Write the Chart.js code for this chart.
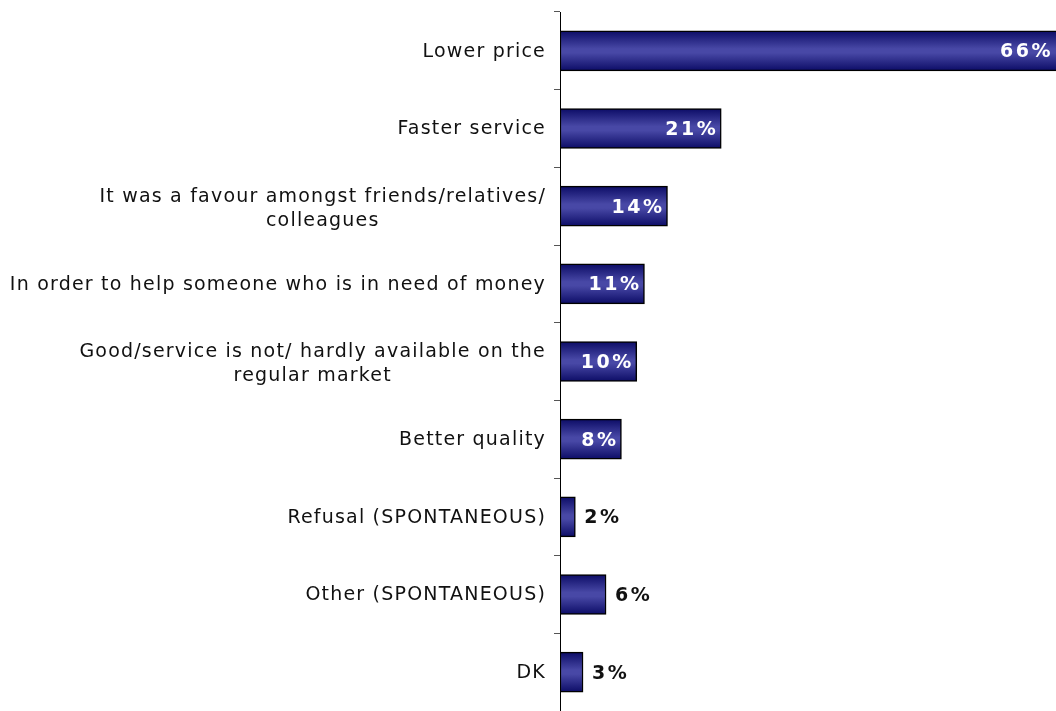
<!DOCTYPE html>
<html>
<head>
<meta charset="utf-8">
<script src="https://cdn.jsdelivr.net/npm/chart.js@4/dist/chart.umd.min.js"></script>
<style>
  html, body { margin: 0; padding: 0; background: #fff; }
  #wrap { width: 1056px; height: 711px; position: relative; }
</style>
</head>
<body>
<div id="wrap"><canvas id="reasons-chart"></canvas></div>
<script>
const categories = [
    ["Lower price"],
    ["Faster service"],
    ["It was a favour amongst friends/relatives/", "colleagues"],
    ["In order to help someone who is in need of money"],
    ["Good/service is not/ hardly available on the", "regular market"],
    ["Better quality"],
    ["Refusal (SPONTANEOUS)"],
    ["Other (SPONTANEOUS)"],
    ["DK"]
];
const values = [66, 21, 14, 11, 10, 8, 2, 6, 3];
const insideMin = 8;

window.addEventListener("DOMContentLoaded", () => {
    setupChart();
});

function barFill(context) {
    const chart = context.chart;
    const y = chart.scales.y;
    const c = y ? y.getPixelForValue(context.dataIndex) : NaN;
    if (!isFinite(c)) return '#3c3c9c';
    const g = chart.ctx.createLinearGradient(0, c - 20, 0, c + 20);
    g.addColorStop(0, '#0c0c66');
    g.addColorStop(0.45, '#4848a6');
    g.addColorStop(0.55, '#4848a6');
    g.addColorStop(1, '#0c0c66');
    return g;
}

const labelPlugin = {
    id: 'labels',
    afterDraw(chart) {
        const ctx = chart.ctx;
        const y = chart.scales.y;
        const x = chart.scales.x;
        ctx.save();
        // category labels
        ctx.font = '19px "DejaVu Sans", Verdana, sans-serif';
        ctx.letterSpacing = '1.2px';
        ctx.fillStyle = '#111';
        ctx.textBaseline = 'middle';
        ctx.textAlign = 'center';
        const rightEdge = 546;
        const lineH = 24;
        categories.forEach((lines, i) => {
            const cy = y.getPixelForValue(i) + (lines.length > 1 ? 3 : 1);
            const widest = Math.max(...lines.map(l => ctx.measureText(l).width));
            const cx = rightEdge - widest / 2;
            const top = cy - (lines.length - 1) * lineH / 2;
            lines.forEach((l, k) => ctx.fillText(l, cx, top + k * lineH));
        });
        // value labels
        ctx.font = 'bold 19px "DejaVu Sans", Verdana, sans-serif';
        ctx.letterSpacing = '2.5px';
        values.forEach((v, i) => {
            const cy = y.getPixelForValue(i) + 1.5;
            const end = Math.min(x.getPixelForValue(v), chart.width);
            if (v >= insideMin) {
                ctx.fillStyle = '#fff';
                ctx.textAlign = 'right';
                ctx.fillText(v + '%', end - 3, cy);
            } else {
                ctx.fillStyle = '#111';
                ctx.textAlign = 'left';
                ctx.fillText(v + '%', end + 9, cy);
            }
        });
        ctx.restore();
    }
};

function setupChart() {
    const ctx = document.getElementById('reasons-chart');

    const config = {
        type: 'bar',
        data: {
            labels: categories,
            datasets: [{
                data: values,
                backgroundColor: barFill,
                borderColor: '#000',
                borderWidth: 1.5,
                borderSkipped: false,
                barThickness: 40
            }]
        },
        options: {
            indexAxis: 'y',
            responsive: true,
            maintainAspectRatio: false,
            animation: false,
            layout: {
                padding: {top: 12, right: 0, bottom: 0, left: 554}
            },
            plugins: {
                legend: {display: false},
                tooltip: {enabled: false}
            },
            scales: {
                x: {
                    display: false,
                    min: 0,
                    max: 64.6
                },
                y: {
                    border: {display: true, color: '#000', width: 1},
                    grid: {
                        offset: true,
                        drawOnChartArea: false,
                        tickLength: 6,
                        color: '#555'
                    },
                    ticks: {display: false}
                }
            }
        },
        plugins: [labelPlugin]
    };

    return new Chart(ctx, config);
}
</script>
</body>
</html>
